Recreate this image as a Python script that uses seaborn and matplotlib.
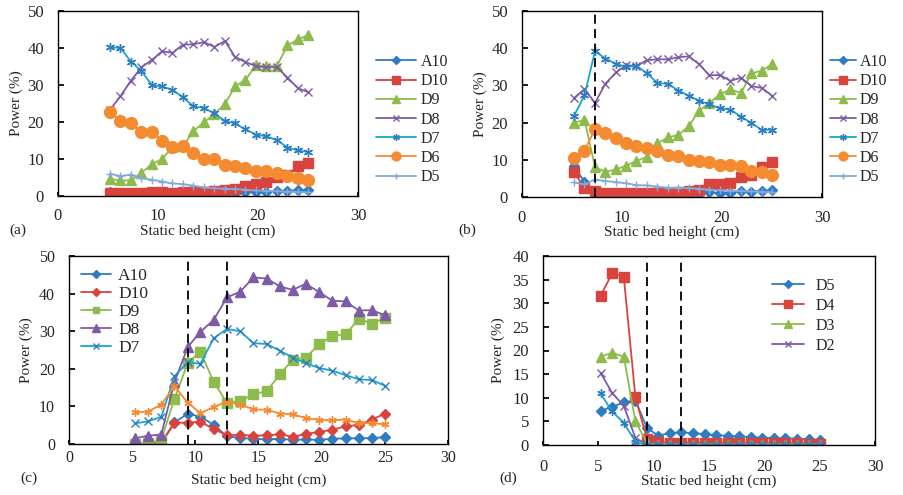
import matplotlib
matplotlib.use("Agg")
import matplotlib.pyplot as plt
import seaborn as sns

# static bed height (cm), shared by every panel
heights = [5.2, 6.25, 7.3, 8.35, 9.4, 10.4, 11.45, 12.5, 13.55, 14.6,
           15.65, 16.7, 17.7, 18.75, 19.8, 20.85, 21.9, 22.95, 24.0, 25.0]

# panel (a)
a_A10 = [1.0, 0.8, 0.7, 0.6, 0.5, 0.4, 0.3, 0.3, 0.4, 0.4, 0.5, 0.6, 0.8, 1.0, 1.1, 1.2, 1.4, 1.4, 1.6, 1.7]
a_D10 = [0.8, 0.9, 0.9, 0.9, 1.0, 1.0, 0.9, 1.0, 1.0, 1.0, 1.3, 1.5, 2.0, 2.8, 3.2, 3.7, 5.2, 5.8, 8.0, 9.0]
a_D9 = [4.6, 4.2, 4.2, 6.3, 8.6, 10.0, 13.2, 13.4, 17.6, 19.9, 22.2, 24.9, 29.6, 31.4, 35.3, 35.2, 35.2, 40.7, 42.3, 43.5]
a_D8 = [23.3, 27.0, 31.2, 34.8, 36.8, 39.1, 38.7, 40.9, 41.0, 41.6, 40.3, 41.9, 37.6, 36.2, 35.1, 34.8, 34.8, 32.0, 29.1, 28.1]
a_D7 = [40.2, 40.0, 36.3, 33.8, 29.9, 29.6, 28.7, 26.7, 24.2, 23.8, 22.3, 20.3, 19.6, 18.0, 16.6, 16.1, 15.1, 13.1, 12.3, 11.9]
a_D6 = [22.8, 20.2, 19.7, 17.4, 17.2, 14.8, 13.2, 13.4, 11.6, 10.0, 10.0, 8.4, 8.0, 7.6, 6.8, 6.8, 6.2, 5.3, 4.8, 4.3]
a_D5 = [6.0, 5.4, 5.8, 4.8, 4.4, 3.9, 3.4, 3.2, 2.8, 2.3, 2.1, 2.0, 1.9, 1.7, 1.5, 1.4, 1.3, 1.2, 1.1, 1.0]

# panel (b)
b_A10 = [8.4, 4.0, 1.6, 1.2, 0.9, 0.7, 0.6, 0.5, 0.5, 0.5, 0.6, 0.7, 0.8, 1.3, 1.0, 1.1, 1.5, 1.4, 1.7, 1.8]
b_D10 = [6.6, 2.5, 1.6, 1.2, 1.1, 1.1, 1.1, 1.1, 1.1, 1.2, 1.4, 1.7, 1.8, 3.4, 3.5, 3.8, 5.5, 6.0, 8.0, 9.4]
b_D9 = [19.9, 20.8, 8.0, 6.8, 7.4, 8.4, 9.7, 10.8, 14.5, 16.0, 16.7, 19.1, 23.2, 25.3, 27.6, 28.9, 28.0, 33.2, 34.0, 35.7]
b_D8 = [26.6, 29.0, 25.3, 30.5, 33.5, 35.4, 35.2, 36.8, 37.0, 37.0, 37.6, 37.8, 35.7, 32.7, 32.8, 31.2, 32.1, 29.8, 29.3, 27.2]
b_D7 = [21.8, 27.3, 39.2, 37.2, 35.8, 35.0, 35.2, 33.3, 30.6, 30.4, 28.6, 27.2, 25.9, 24.9, 23.8, 23.5, 21.6, 19.9, 18.0, 18.1]
b_D6 = [10.6, 12.4, 18.3, 17.3, 15.8, 14.6, 13.6, 13.1, 12.3, 11.3, 11.0, 9.9, 9.6, 9.3, 8.7, 8.6, 8.4, 7.1, 6.6, 5.9]
b_D5 = [3.9, 3.4, 4.7, 4.3, 4.0, 3.7, 3.2, 3.1, 2.8, 2.5, 2.5, 2.4, 2.2, 2.0, 1.8, 1.7, 1.6, 1.5, 1.4, 1.3]

# panel (c)
c_A10 = [0.1, 0.1, 0.3, 5.8, 8.0, 7.3, 5.1, 2.0, 1.6, 1.4, 1.2, 1.4, 1.1, 1.2, 1.1, 1.4, 1.5, 1.5, 1.6, 1.8]
c_D10 = [0.0, 0.0, 0.2, 5.6, 5.7, 5.9, 4.0, 2.3, 2.4, 2.2, 2.3, 2.6, 1.9, 2.7, 3.2, 3.8, 4.7, 5.1, 6.5, 8.1]
c_D9 = [0.0, 0.2, 1.0, 12.1, 21.5, 24.6, 16.5, 11.0, 11.5, 13.2, 14.1, 18.5, 22.4, 23.0, 26.5, 28.8, 29.2, 33.3, 31.9, 33.6]
c_D8 = [1.5, 2.2, 2.5, 16.5, 25.8, 29.8, 33.0, 39.0, 40.5, 44.3, 44.0, 41.9, 41.0, 42.6, 40.4, 38.1, 37.9, 35.5, 35.6, 34.2]
c_D7 = [5.5, 6.0, 7.2, 18.0, 21.8, 21.3, 28.1, 30.6, 30.0, 26.8, 26.6, 24.8, 23.0, 21.5, 20.2, 19.5, 18.3, 17.2, 17.0, 15.5]
c_D6 = [8.4, 8.6, 10.5, 15.4, 11.0, 8.2, 9.8, 11.3, 10.5, 9.2, 9.1, 8.1, 7.9, 6.9, 6.4, 6.3, 6.5, 5.5, 5.6, 5.2]

# panel (d)
d_D5 = [7.2, 8.1, 9.0, 9.4, 3.6, 2.0, 2.5, 2.7, 2.5, 2.3, 2.1, 1.9, 1.8, 1.7, 1.5, 1.5, 1.4, 1.3, 1.2, 1.1]
d_D4 = [31.6, 36.3, 35.6, 10.1, 1.2, 0.6, 0.5, 0.5, 0.5, 0.5, 0.5, 0.4, 0.4, 0.4, 0.4, 0.4, 0.4, 0.4, 0.3, 0.3]
d_D3 = [18.7, 19.5, 18.7, 5.0, 0.4, 0.1, 0.1, 0.1, 0.1, 0.1, 0.1, 0.1, 0.1, 0.1, 0.1, 0.1, 0.1, 0.1, 0.1, 0.1]
d_D2 = [15.3, 11.0, 8.3, 1.5, 0.1, 0.0, 0.0, 0.0, 0.0, 0.0, 0.0, 0.0, 0.0, 0.0, 0.0, 0.0, 0.0, 0.0, 0.0, 0.0]
d_D1 = [10.9, 7.1, 4.7, 0.7, 0.0, 0.0, 0.0, 0.0, 0.0, 0.0, 0.0, 0.0, 0.0, 0.0, 0.0, 0.0, 0.0, 0.0, 0.0, 0.0]

BLUE = '#2E7DC0'
RED = '#D8433E'
GREEN = '#8DBB4C'
PURPLE = '#7D5BA6'
CYAN = '#1BA6C9'
ORANGE = '#F58B31'
LBLUE = '#85A9D8'
STAR = (6, 2, 0)

sns.set_theme(style='ticks')
plt.rcParams['font.family'] = ['Liberation Serif', 'DejaVu Serif']
plt.rcParams['font.size'] = 11

fig = plt.figure(figsize=(9.04, 4.95), dpi=100)
W, H = 904, 495


def make_ax(l, t, r, b):
    return fig.add_axes([l / W, 1 - b / H, (r - l) / W, (b - t) / H])


def draw(ax, series):
    # series: (values, label, line colour, marker, marker size, marker colour)
    for vals, lab, col, mk, ms, mcol in series:
        sns.lineplot(x=heights, y=vals, ax=ax, color=col, marker=mk, markersize=ms,
                     markerfacecolor=mcol, markeredgecolor=mcol, markeredgewidth=1.0,
                     linewidth=1.3, label=lab, legend=False, sort=False)


def style(ax, box, ymax, ystep, xstep, xpad, ylab_right, xlab_top, tsize):
    l, t, r, b = box
    ax.set_xlim(0, 30)
    ax.set_ylim(0, ymax)
    ax.set_xticks(range(0, 31, xstep))
    ax.set_yticks(range(0, ymax + 1, ystep))
    for s in ax.spines.values():
        s.set_visible(True)
        s.set_color('black')
        s.set_linewidth(1.0)
    ax.tick_params(axis='x', direction='in', length=3, labelsize=tsize, color='black', pad=xpad)
    ax.tick_params(axis='y', direction='in', length=4, labelsize=tsize, color='black', pad=10)
    ax.set_xlabel('Static bed height (cm)', fontsize=11)
    ax.set_ylabel('Power (%)', fontsize=11)
    ax.xaxis.set_label_coords(0.5, (b - xlab_top) / (b - t))
    ax.yaxis.set_label_coords((ylab_right - l) / (r - l), 0.5)


def legend(ax, x, y, size, hl, tp, sp):
    ax.legend(loc='upper left', bbox_to_anchor=(x / W, 1 - y / H), bbox_transform=fig.transFigure,
              frameon=False, fontsize=size, handlelength=hl, handletextpad=tp,
              labelspacing=sp, borderpad=0, borderaxespad=0, markerscale=0.75)


# (a)
box_a = (58, 11, 358, 196)
ax_a = make_ax(*box_a)
draw(ax_a, [
    (a_A10, 'A10', BLUE, 'D', 5, BLUE),
    (a_D10, 'D10', RED, 's', 7, RED),
    (a_D9, 'D9', GREEN, '^', 7.5, GREEN),
    (a_D8, 'D8', PURPLE, 'x', 6, PURPLE),
    (a_D7, 'D7', CYAN, STAR, 6.5, BLUE),
    (a_D6, 'D6', ORANGE, 'o', 8.5, ORANGE),
    (a_D5, 'D5', LBLUE, '+', 6, LBLUE),
])
style(ax_a, box_a, 50, 10, 10, 9, 23, 225, 12)
legend(ax_a, 376, 54, 11.5, 2.5, 0.3, 0.2)

# (b)
box_b = (522, 11, 822, 197)
ax_b = make_ax(*box_b)
draw(ax_b, [
    (b_A10, 'A10', BLUE, 'D', 5, BLUE),
    (b_D10, 'D10', RED, 's', 7, RED),
    (b_D9, 'D9', GREEN, '^', 7.5, GREEN),
    (b_D8, 'D8', PURPLE, 'x', 6, PURPLE),
    (b_D7, 'D7', CYAN, STAR, 6.5, BLUE),
    (b_D6, 'D6', ORANGE, 'o', 8.5, ORANGE),
    (b_D5, 'D5', LBLUE, '+', 6, LBLUE),
])
style(ax_b, box_b, 50, 10, 10, 9, 487, 226, 12)
ax_b.axvline(7.3, color='black', linestyle=(0, (5, 3)), linewidth=1.3)
legend(ax_b, 830, 54, 11.5, 1.6, 0.25, 0.2)

# (c)
box_c = (69, 256, 448, 444)
ax_c = make_ax(*box_c)
draw(ax_c, [
    (c_A10, 'A10', BLUE, 'D', 5, BLUE),
    (c_D10, 'D10', RED, 'D', 5, RED),
    (c_D9, 'D9', GREEN, 's', 6.5, GREEN),
    (c_D8, 'D8', PURPLE, '^', 7, PURPLE),
    (c_D7, 'D7', CYAN, 'x', 5.5, BLUE),
    (c_D6, None, ORANGE, STAR, 6, ORANGE),
])
style(ax_c, box_c, 50, 10, 5, 4, 33, 474, 11.5)
for xv in (9.4, 12.5):
    ax_c.axvline(xv, color='black', linestyle=(0, (5, 3)), linewidth=1.3)
legend(ax_c, 81, 268, 12.5, 1.7, 0.45, 0.1)

# (d)
box_d = (543, 256, 875, 445)
ax_d = make_ax(*box_d)
draw(ax_d, [
    (d_D5, 'D5', BLUE, 'D', 5, BLUE),
    (d_D4, 'D4', RED, 's', 7, RED),
    (d_D3, 'D3', GREEN, '^', 7, GREEN),
    (d_D2, 'D2', PURPLE, 'x', 5.5, PURPLE),
    (d_D1, None, CYAN, STAR, 6, BLUE),
])
style(ax_d, box_d, 40, 5, 5, 10, 505, 475, 12)
for xv in (9.4, 12.5):
    ax_d.axvline(xv, color='black', linestyle=(0, (5, 3)), linewidth=1.3)
legend(ax_d, 772, 278, 11.5, 2.0, 0.7, 0.25)

# panel letters
fig.text(18 / W, 1 - 230 / H, '(a)', fontsize=11, ha='center', va='center')
fig.text(467 / W, 1 - 230 / H, '(b)', fontsize=11, ha='center', va='center')
fig.text(29 / W, 1 - 478 / H, '(c)', fontsize=11, ha='center', va='center')
fig.text(508 / W, 1 - 478 / H, '(d)', fontsize=11, ha='center', va='center')

fig.savefig('out.png', dpi=100, facecolor='white')
